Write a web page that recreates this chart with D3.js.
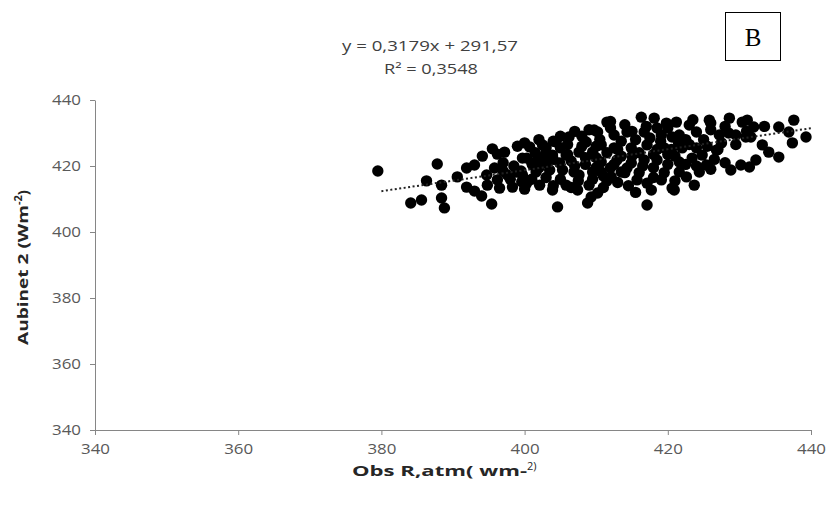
<!DOCTYPE html>
<html><head><meta charset="utf-8">
<script src="https://cdn.jsdelivr.net/npm/d3@7"></script>
<style>body{margin:0;background:#fff;}svg{display:block;}</style>
</head><body>
<svg id="c" width="832" height="506"></svg>
<script>
// ---- data ----
const xDomain = [340, 440];
const yDomain = [340, 440];
const xTicks = [340, 360, 380, 400, 420, 440];
const yTicks = [340, 360, 380, 400, 420, 440];
const slope = 0.3179, intercept = 291.57;
const trendRange = [380, 440];
const equationText = "y = 0,3179x + 291,57";
const r2Text = "R² = 0,3548";
const panelLabel = "B";
const obsX = [379.5,387.8,386.3,388.4,384.1,385.6,388.4,388.8,
 390.6,391.9,393.0,394.1,395.5,397.2,396.2,391.9,393.0,394.0,395.4,394.7,395.8,396.2,397.6,398.9,399.6,398.3,396.5,394.8,399.7,
 400.7,402.5,404.4,406.2,409.7,408.6,400.3,402.1,403.9,405.8,407.6,409.5,399.7,401.6,403.5,405.3,406.9,400.3,402.1,403.9,405.8,407.4,409.0,409.3,408.8,404.6,407.6,409.5,401.1,404.9,403.0,
 411.5,416.3,418.1,419.8,410.2,412.5,414.3,416.7,419.1,420.6,410.7,412.5,414.9,417.1,419.5,410.7,412.9,414.9,416.7,418.5,410.7,413.5,415.7,417.1,419.1,417.7,420.6,417.1,410.2,412.1,414.3,
 421.2,423.0,425.8,428.6,430.4,421.6,424.0,427.2,429.5,430.9,422.0,424.0,426.8,421.6,423.4,424.8,421.6,424.4,422.6,423.7,420.9,428.8,430.2,425.4,
 431.1,432.0,431.6,435.5,437.6,436.9,439.3,437.4,433.2,434.1,435.5,432.3,431.4,
 401.5,403,405,406.5,408,408.5,410,411.5,413.5,415.5,417.5,419,416,418,420.5,421,420,418,416,413.5,412,409.5,407.5,405,403,401,398.5,397,411,413,415.5,419.5,422.5,425,426,428,423,425.5,427.5,418.5,414,412,410.5,406,404,402,400,399,
 402,404,406,407,408.5,410,411,412.5,414,415,416.5,418.5,420,421.5,413,410,408,405,403,401,399.5,398,397,400,404,406.5,411.5,414.5,418,421,422.5,424,426.5,426,428,427,429.5,431,433.5,428.5,426,423.5,420,417,415,412,409,407];
const obsY = [418.5,420.6,415.5,414.2,408.8,409.7,410.3,407.3,
 416.7,419.4,420.3,423.0,425.2,424.2,423.6,413.6,412.4,410.9,408.5,417.3,419.4,415.8,417.3,418.2,415.2,413.6,413.3,414.2,422.4,
 425.8,426.4,427.3,428.8,430.9,427.3,422.4,422.4,423.3,423.3,424.2,424.2,417.3,418.2,418.8,418.8,418.2,414.8,414.2,412.7,414.2,412.7,414.2,410.6,408.8,407.6,417.3,418.2,420.3,420.9,425.5,
 433.3,434.8,434.5,433.0,430.3,429.4,430.3,430.3,429.4,428.8,426.4,425.5,425.5,426.4,425.5,421.2,421.8,420.9,421.8,421.8,418.2,418.2,415.8,414.8,415.8,412.7,413.3,408.2,411.8,416.7,419.4,
 433.3,432.4,433.9,434.5,433.3,429.4,430.3,429.4,429.4,428.8,425.5,425.5,424.8,421.2,422.4,423.3,418.2,418.2,416.7,414.2,412.7,418.8,420.3,420.3,
 433.9,431.8,428.8,431.8,433.9,430.3,428.8,427.0,426.4,424.2,422.7,421.8,419.7,
 424,421,425.5,421.5,426,420.5,422.5,424,427.5,428,428.5,427.5,424,423.5,425,423,420.5,419.5,418,423,419.5,416,415.5,416,416.5,416,420,421,413.5,415,412,418,428,428,431,432,426.5,426,427,431.5,432.5,431.5,428,426.5,427.5,428,427,426,
 419.5,422,423.5,420,422.5,419.5,417,420.5,418,423,420,425,423.5,427,425,426,429,429,424,421,418.5,416,418.5,413,414,413.5,415.5,414,416.5,415.5,420.5,420,422,419,421,425,426.5,430.5,432,430,433,434,431.5,432,430.5,433.5,431,430.5];

// ---- chart ----
const svg = d3.select("#c");
const x = d3.scaleLinear().domain(xDomain).range([95, 811]);
const y = d3.scaleLinear().domain(yDomain).range([430, 100]);
const axisColor = "#868686", textColor = "#595959";
const font = "'Open Sans', Calibri, sans-serif";

const gx = svg.append("g").attr("transform", "translate(0,430)")
  .call(d3.axisBottom(x).tickValues(xTicks).tickSize(5).tickSizeOuter(0).tickPadding(9));
const gy = svg.append("g").attr("transform", "translate(95,0)")
  .call(d3.axisLeft(y).tickValues(yTicks).tickSize(5).tickSizeOuter(0).tickPadding(9));
[gx, gy].forEach(g => {
  g.select(".domain").attr("stroke", axisColor);
  g.selectAll(".tick line").attr("stroke", axisColor);
  g.selectAll(".tick text").attr("fill", textColor).style("font-family", font).style("font-size", "14px")
    .attr("textLength", 29).attr("lengthAdjust", "spacingAndGlyphs");
});

const pts = obsX.map((v, i) => [v, obsY[i]]);
svg.append("g").selectAll("circle").data(pts).join("circle")
  .attr("cx", d => x(d[0])).attr("cy", d => y(d[1])).attr("r", 5.7).attr("fill", "#000");

svg.append("line")
  .attr("x1", x(trendRange[0])).attr("y1", y(slope * trendRange[0] + intercept))
  .attr("x2", x(trendRange[1])).attr("y2", y(slope * trendRange[1] + intercept))
  .attr("stroke", "#222").attr("stroke-width", 2).attr("stroke-dasharray", "2,2.5");

// equation
svg.append("text").attr("x", 430).attr("y", 51).attr("text-anchor", "middle")
  .style("font-family", font).style("font-size", "14px").attr("fill", "#404040")
  .attr("textLength", 176).attr("lengthAdjust", "spacingAndGlyphs").text(equationText);
svg.append("text").attr("x", 431).attr("y", 74).attr("text-anchor", "middle")
  .style("font-family", font).style("font-size", "14px").attr("fill", "#404040")
  .attr("textLength", 94).attr("lengthAdjust", "spacingAndGlyphs").text(r2Text);

// panel label
svg.append("rect").attr("x", 725.5).attr("y", 12.5).attr("width", 55).attr("height", 48)
  .attr("fill", "none").attr("stroke", "#000").attr("stroke-width", 1);
svg.append("text").attr("x", 753).attr("y", 46).attr("text-anchor", "middle")
  .style("font-family", "'Liberation Serif', 'Times New Roman', serif").style("font-size", "25px").attr("fill", "#000").text(panelLabel);

// axis titles
const xt = svg.append("text").attr("x", 352).attr("y", 476).attr("text-anchor", "start")
  .style("font-family", font).style("font-size", "15px").style("font-weight", "bold").attr("fill", "#262626");
xt.append("tspan").attr("textLength", 175).attr("lengthAdjust", "spacingAndGlyphs").text("Obs R,atm( wm-");
xt.append("tspan").attr("dy", -6).style("font-size", "11px").style("font-weight", "normal").text("2)");

const yt = svg.append("text").attr("transform", "translate(28,345) rotate(-90)").attr("text-anchor", "start")
  .style("font-family", font).style("font-size", "15px").style("font-weight", "bold").attr("fill", "#262626");
yt.append("tspan").attr("textLength", 140).attr("lengthAdjust", "spacingAndGlyphs").text("Aubinet 2 (Wm");
yt.append("tspan").attr("dy", -6).style("font-size", "11px").text("-2");
yt.append("tspan").attr("dy", 6).text(")");
</script>
</body></html>
